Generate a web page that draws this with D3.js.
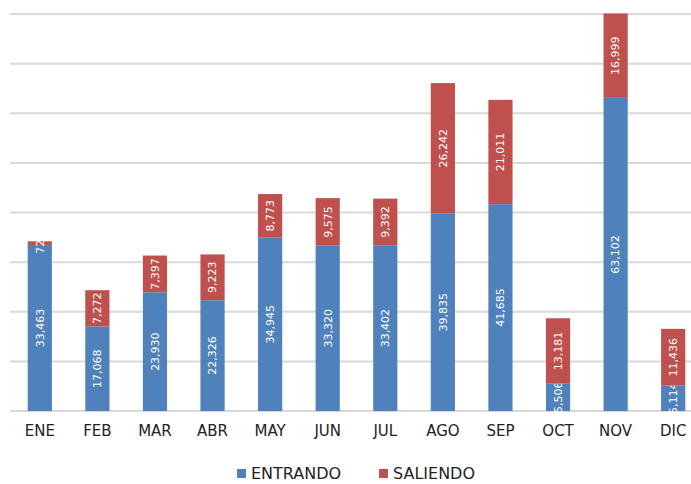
<!DOCTYPE html>
<html>
<head>
<meta charset="utf-8">
<script src="https://cdn.jsdelivr.net/npm/d3@7"></script>
<style>
  body { margin: 0; background: #fff; }
  text { font-family: "DejaVu Sans", sans-serif; }
</style>
</head>
<body>
<div id="chart"></div>
<script>
const months = ["ENE", "FEB", "MAR", "ABR", "MAY", "JUN", "JUL", "AGO", "SEP", "OCT", "NOV", "DIC"]
const entrando = [33463, 17068, 23930, 22326, 34945, 33320, 33402, 39835, 41685, 5506, 63102, 5114]
const saliendo = [729, 7272, 7397, 9223, 8773, 9575, 9392, 26242, 21011, 13181, 16999, 11436]
const yTicks = [0, 10000, 20000, 30000, 40000, 50000, 60000, 70000, 80000]
const seriesNames = ["ENTRANDO", "SALIENDO"]
const colors = ["#4f81bd", "#c0504d"]

const width = 691, height = 484
const svg = d3.select("#chart").append("svg")
    .attr("width", width)
    .attr("height", height)

// x band spans a bit past the right edge, like the original export
const x = d3.scaleBand()
    .domain(months)
    .range([11, 702])
    .paddingInner(0.58)
    .paddingOuter(0.29)

const y = d3.scaleLinear()
    .domain([0, 80000])
    .range([411, 14])

// gridlines
svg.append("g")
    .selectAll("line")
    .data(yTicks)
    .join("line")
    .attr("x1", 10)
    .attr("x2", width)
    .attr("y1", d => y(d))
    .attr("y2", d => y(d))
    .attr("stroke", "#d9d9d9")
    .attr("stroke-width", 2)

const rows = months.map((m, i) => ({month: m, ENTRANDO: entrando[i], SALIENDO: saliendo[i]}))
const stacked = d3.stack().keys(seriesNames)(rows)

const layer = svg.append("g")
    .selectAll("g")
    .data(stacked)
    .join("g")
    .attr("fill", (d, i) => colors[i])

layer.selectAll("rect")
    .data(d => d)
    .join("rect")
    .attr("x", d => x(d.data.month))
    .attr("width", x.bandwidth())
    .attr("y", d => y(d[1]))
    .attr("height", d => y(d[0]) - y(d[1]))

// value labels, rotated, white
const fmt = d3.format(",")
layer.selectAll("text")
    .data(d => d.map(v => ({v, key: d.key})))
    .join("text")
    .attr("transform", d => {
        let cx = x(d.v.data.month) + x.bandwidth() / 2
        let cy = (y(d.v[0]) + y(d.v[1])) / 2
        return `translate(${cx},${cy}) rotate(-90)`
    })
    .attr("text-anchor", "middle")
    .attr("dy", "0.35em")
    .attr("fill", "#fff")
    .style("font-size", "11px")
    .text(d => fmt(d.v.data[d.key]))

// x axis labels
const xAxis = d3.axisBottom(x).tickSize(0).tickPadding(14)
const gx = svg.append("g")
    .attr("transform", "translate(0,411)")
    .call(xAxis)
gx.select(".domain").remove()
gx.selectAll("text")
    .attr("fill", "#222")
    .style("font-size", "15px")

// legend
const legendX = [237, 379]
const legend = svg.append("g")
    .selectAll("g")
    .data(seriesNames)
    .join("g")
    .attr("transform", (d, i) => `translate(${legendX[i]},469)`)
legend.append("rect")
    .attr("width", 9)
    .attr("height", 9)
    .attr("fill", (d, i) => colors[i])
legend.append("text")
    .attr("x", 14)
    .attr("y", 10)
    .attr("fill", "#222")
    .style("font-size", "16px")
    .text(d => d)
</script>
</body>
</html>
